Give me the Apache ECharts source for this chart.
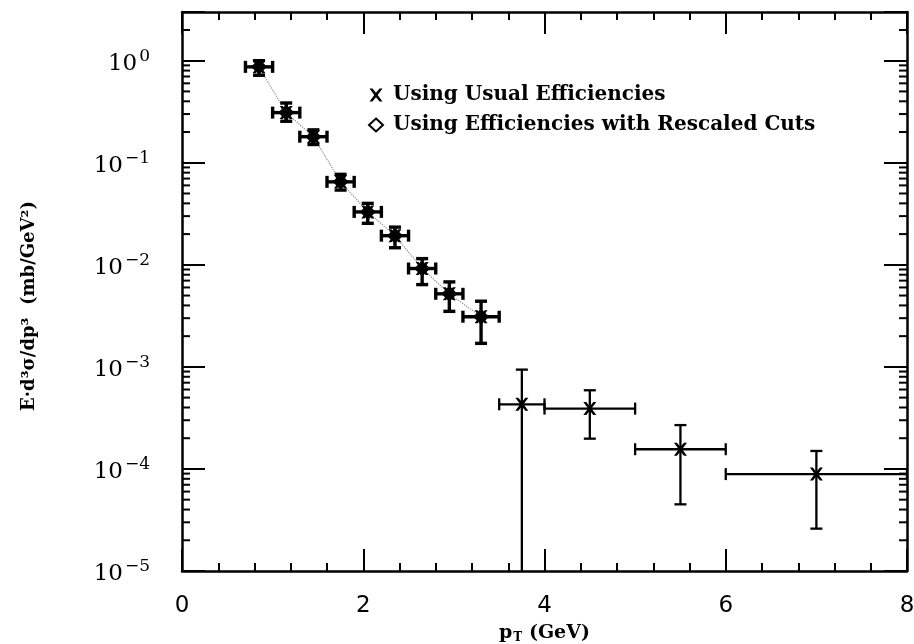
<!DOCTYPE html>
<html>
<head>
<meta charset="utf-8">
<title>Invariant cross section vs pT</title>
<script src="https://cdn.jsdelivr.net/npm/echarts@6/dist/echarts.min.js"></script>
<style>
  html, body { margin: 0; padding: 0; background: #fff; }
  #chart { width: 914px; height: 644px; }
</style>
</head>
<body>
<div id="chart"></div>
<script>
// values (pT in GeV, cross section in mb/GeV^2)
const pT = [0.85, 1.15, 1.45, 1.75, 2.05, 2.35, 2.65, 2.95, 3.3, 3.75, 4.5, 5.5, 7.0];
const pTLow = [0.7, 1.0, 1.3, 1.6, 1.9, 2.2, 2.5, 2.8, 3.1, 3.5, 4.0, 5.0, 6.0];
const pTHigh = [1.0, 1.3, 1.6, 1.9, 2.2, 2.5, 2.8, 3.1, 3.5, 4.0, 5.0, 6.0, 8.0];
const usual = [0.87, 0.31, 0.18, 0.065, 0.033, 0.0193, 0.0092, 0.0052, 0.0031, 0.00043, 0.00039, 0.000156, 0.000089];
const usualLow = [0.72, 0.255, 0.151, 0.054, 0.0255, 0.0147, 0.0064, 0.0035, 0.0017, 0, 0.000198, 0.000045, 0.000026];
const usualHigh = [1.0, 0.385, 0.21, 0.077, 0.040, 0.0234, 0.0115, 0.0068, 0.0044, 0.00094, 0.00059, 0.000269, 0.00015];

const rescaledPT = [0.85, 1.15, 1.45, 1.75, 2.05, 2.35, 2.65, 2.95, 3.3];
const rescaled = [0.87, 0.31, 0.18, 0.065, 0.033, 0.0193, 0.0092, 0.0052, 0.0031];

const yDecades = [-5, -4, -3, -2, -1, 0];
const minorMults = [2, 3, 4, 5, 6, 7, 8, 9];
const yMin = 1e-5;
const yMax = 3;
const xMin = 0;
const xMax = 8;

const nameUsual = 'Using Usual Efficiencies';
const nameRescaled = 'Using Efficiencies with Rescaled Cuts';

const lg = (v) => Math.log10(v);
const yMinLog = lg(yMin);
const yMaxLog = lg(yMax);

const minorLogs = [];
yDecades.forEach((k) => {
  minorMults.forEach((m) => {
    const v = lg(m) + k;
    if (v < yMaxLog - 0.01) minorLogs.push([xMin, v]);
  });
});

const errData = pT.map((x, i) => [
  x, pTLow[i], pTHigh[i], lg(usual[i]),
  usualLow[i] > 0 ? lg(usualLow[i]) : yMinLog,
  lg(usualHigh[i]), i
]);

const crossPath = 'path://M0,0 L2.3,0 L5,3.3 L7.7,0 L10,0 L6.3,5 L10,10 L7.7,10 L5,6.7 L2.3,10 L0,10 L3.7,5 Z';

const serif = '"DejaVu Serif", "Liberation Serif", serif';
const sans = '"DejaVu Sans", "Liberation Sans", sans-serif';

function renderErr(params, api) {
  const x = api.value(0), xl = api.value(1), xh = api.value(2);
  const y = api.value(3), yl = api.value(4), yh = api.value(5);
  const idx = api.value(6);
  const lw = idx < 9 ? 3.4 : 2.3;
  const cap = 6;
  const c = api.coord([x, y]);
  const l = api.coord([xl, y]);
  const r = api.coord([xh, y]);
  const lo = api.coord([x, yl]);
  const hi = api.coord([x, yh]);
  const style = { stroke: '#000', lineWidth: lw };
  const line = (x1, y1, x2, y2) => ({ type: 'line', shape: { x1, y1, x2, y2 }, style });
  const kids = [
    line(l[0], c[1], r[0], c[1]),
    line(l[0], c[1] - cap, l[0], c[1] + cap),
    line(r[0], c[1] - cap, r[0], c[1] + cap),
    line(c[0], lo[1], c[0], hi[1]),
    line(c[0] - cap, hi[1], c[0] + cap, hi[1])
  ];
  if (yl > yMinLog) kids.push(line(c[0] - cap, lo[1], c[0] + cap, lo[1]));
  return { type: 'group', children: kids };
}

function renderMinor(params, api) {
  const v = api.value(1);
  const a = api.coord([xMin, v]);
  const b = api.coord([xMax, v]);
  const style = { stroke: '#000', lineWidth: 2 };
  return {
    type: 'group',
    children: [
      { type: 'line', shape: { x1: a[0], y1: a[1], x2: a[0] + 8, y2: a[1] }, style },
      { type: 'line', shape: { x1: b[0] - 8, y1: b[1], x2: b[0], y2: b[1] }, style }
    ]
  };
}

const chart = echarts.init(document.getElementById('chart'), null, { renderer: 'canvas' });

const xAxisBase = {
  type: 'value',
  min: xMin,
  max: xMax,
  interval: 2,
  splitLine: { show: false },
  axisLine: { onZero: false, lineStyle: { color: '#000', width: 2.5 } },
  axisTick: { inside: true, length: 22, lineStyle: { color: '#000', width: 2 } },
  minorTick: { show: true, splitNumber: 5, length: 8, lineStyle: { color: '#000', width: 2 } }
};

const yAxisBase = {
  type: 'value',
  min: yMinLog,
  max: yMaxLog,
  interval: 1,
  splitLine: { show: false },
  axisLine: { onZero: false, lineStyle: { color: '#000', width: 2.5 } },
  axisTick: { inside: true, length: 23, lineStyle: { color: '#000', width: 2 } }
};

const option = {
  animation: false,
  backgroundColor: '#fff',
  grid: { left: 182, right: 7, top: 12, bottom: 73, containLabel: false, outerBoundsMode: 'none' },
  legend: {
    orient: 'vertical',
    left: 363,
    top: 80,
    itemWidth: 14,
    itemHeight: 13,
    itemGap: 10,
    selectedMode: false,
    data: [nameUsual, nameRescaled],
    textStyle: { fontFamily: serif, fontWeight: 'bold', fontSize: 20, color: '#000', padding: [0, 0, 0, 5] }
  },
  xAxis: [
    Object.assign({}, xAxisBase, {
      position: 'bottom',
      axisLabel: { margin: 24, fontFamily: sans, fontSize: 23, color: '#000' },
      name: '{p|p}{t|T}{g| (GeV)}',
      nameLocation: 'middle',
      nameGap: 52,
      nameTextStyle: {
        rich: {
          p: { fontFamily: serif, fontWeight: 'bold', fontSize: 19, color: '#000' },
          t: { fontFamily: serif, fontWeight: 'bold', fontSize: 12, color: '#000', padding: [9, 0, 0, 1] },
          g: { fontFamily: serif, fontWeight: 'bold', fontSize: 19, color: '#000' }
        }
      }
    }),
    Object.assign({}, xAxisBase, { position: 'top', axisLabel: { show: false } })
  ],
  yAxis: [
    Object.assign({}, yAxisBase, {
      position: 'left',
      axisLabel: {
        margin: 32,
        formatter: (v) => {
          const k = Math.round(v);
          if (Math.abs(v - k) > 1e-6) return '';
          return '{b|10}{s|' + (k < 0 ? '\u2212' + (-k) : k) + '}';
        },
        rich: {
          b: { fontFamily: serif, fontSize: 23, color: '#000', padding: [6, 0, 0, 0] },
          s: { fontFamily: serif, fontSize: 17, color: '#000', padding: [0, 0, 9, 2] }
        }
      }
    }),
    Object.assign({}, yAxisBase, { position: 'right', axisLabel: { show: false } })
  ],
  graphic: [
    {
      type: 'text',
      x: 29,
      y: 306,
      rotation: Math.PI / 2,
      style: {
        text: 'E\u00b7d\u00b3\u03c3/dp\u00b3  (mb/GeV\u00b2)',
        fontFamily: serif,
        fontWeight: 'bold',
        fontSize: 18,
        fill: '#000',
        align: 'center',
        verticalAlign: 'middle'
      }
    }
  ],
  series: [
    {
      name: 'trend',
      type: 'line',
      data: rescaledPT.map((x, i) => [x, lg(rescaled[i])]),
      showSymbol: false,
      silent: true,
      lineStyle: { color: '#8c8c8c', width: 1.2, type: 'dotted' },
      z: 1
    },
    {
      name: 'minor',
      type: 'custom',
      renderItem: renderMinor,
      data: minorLogs,
      silent: true,
      clip: false,
      z: 3
    },
    {
      name: 'errors',
      type: 'custom',
      renderItem: renderErr,
      data: errData,
      silent: true,
      clip: true,
      z: 4
    },
    {
      name: nameRescaled,
      type: 'scatter',
      symbol: 'diamond',
      symbolSize: 12,
      data: rescaledPT.map((x, i) => [x, lg(rescaled[i])]),
      itemStyle: { color: 'rgba(255,255,255,0)', borderColor: '#000', borderWidth: 2.8, opacity: 1 },
      z: 5
    },
    {
      name: nameUsual,
      type: 'scatter',
      symbol: crossPath,
      symbolSize: 13,
      data: pT.map((x, i) => [x, lg(usual[i])]),
      itemStyle: { color: '#000', opacity: 1 },
      z: 6
    }
  ]
};

chart.setOption(option);
</script>
</body>
</html>
